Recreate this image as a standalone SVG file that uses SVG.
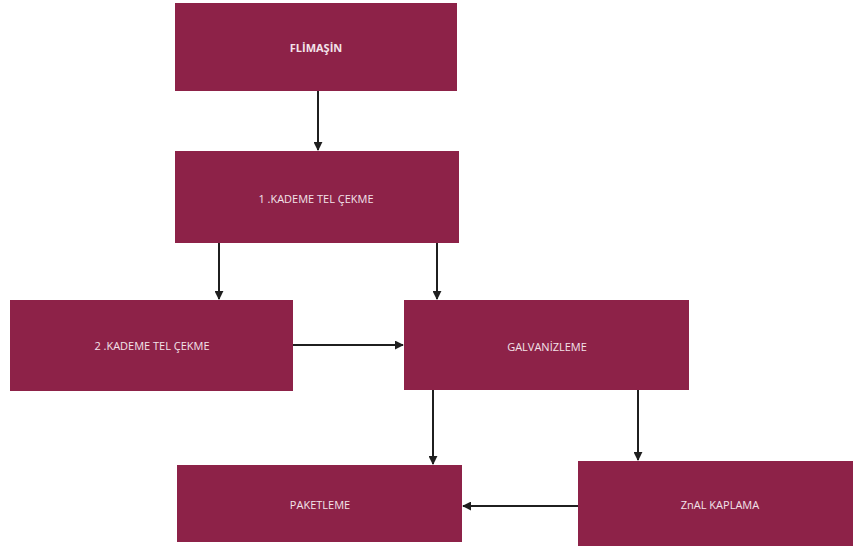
<svg xmlns="http://www.w3.org/2000/svg" width="853" height="546" viewBox="0 0 853 546">
<style>
.box{fill:#8d2248;}
.lbl{fill:#f3e3ea;font-family:"Open Sans","Liberation Sans",sans-serif;font-size:11px;text-anchor:middle;dominant-baseline:central;}
.b{font-weight:bold;}
.con{stroke:#1f1f1f;stroke-width:2;fill:none;marker-end:url(#ah);}
</style>
<defs>
<marker id="ah" viewBox="0 0 10 10" refX="9" refY="5" markerWidth="4.5" markerHeight="4.5" orient="auto">
<path d="M0,0 L10,5 L0,10 z" fill="#1f1f1f"/>
</marker>
</defs>
<rect width="853" height="546" fill="#ffffff"/>
<g id="n1"><rect class="box" x="175" y="3" width="282" height="88"/><text class="lbl b" x="316" y="47">FLİMAŞİN</text></g>
<g id="n2"><rect class="box" x="175" y="151" width="284" height="92"/><text class="lbl" x="316" y="198">1 .KADEME TEL ÇEKME</text></g>
<g id="n3"><rect class="box" x="10" y="300" width="283" height="91"/><text class="lbl" x="152" y="345">2 .KADEME TEL ÇEKME</text></g>
<g id="n4"><rect class="box" x="404" y="300" width="285" height="90"/><text class="lbl" x="547" y="346">GALVANİZLEME</text></g>
<g id="n5"><rect class="box" x="177" y="465" width="285" height="77"/><text class="lbl" x="320" y="504">PAKETLEME</text></g>
<g id="n6"><rect class="box" x="578" y="461" width="275" height="85"/><text class="lbl" x="720" y="504">ZnAL KAPLAMA</text></g>
<g id="connectors">
<line class="con" x1="318" y1="91" x2="318" y2="150"/>
<line class="con" x1="219" y1="243" x2="219" y2="299"/>
<line class="con" x1="437" y1="243" x2="437" y2="299"/>
<line class="con" x1="293" y1="345" x2="403" y2="345"/>
<line class="con" x1="433" y1="390" x2="433" y2="464"/>
<line class="con" x1="638" y1="390" x2="638" y2="460"/>
<line class="con" x1="578" y1="506" x2="463" y2="506"/>
</g>
</svg>
